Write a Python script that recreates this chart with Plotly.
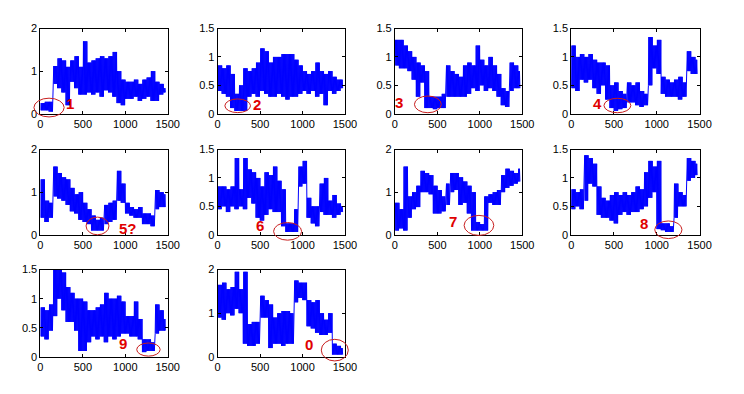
import plotly.graph_objects as go

# ---------------- data (envelopes read per 50-sample bin) ----------------
bin_width = 50
n_samples = 1475
x_ticks = [0, 500, 1000, 1500]
y_ticks_15 = [0, 0.5, 1, 1.5]
y_ticks_2 = [0, 1, 2]

p1_lo = [0.08, 0.08, 0.05, 0.70, 0.60, 0.50, 0.20, 0.75, 0.60, 0.45, 0.45, 0.50, 0.45, 0.50, 0.40,
         0.55, 0.50, 0.40, 0.25, 0.20, 0.35, 0.35, 0.40, 0.30, 0.35, 0.40, 0.30, 0.30, 0.45, 0.50]
p1_hi = [0.25, 0.28, 0.28, 1.12, 1.30, 1.25, 1.10, 1.25, 1.35, 1.10, 1.70, 1.20, 1.25, 1.30, 1.35,
         1.30, 1.35, 1.45, 1.00, 0.80, 0.75, 0.75, 0.80, 0.70, 0.80, 0.85, 1.00, 0.75, 0.70, 0.60]

p2_lo = [0.40, 0.35, 0.30, 0.10, 0.05, 0.05, 0.05, 0.30, 0.35, 0.30, 0.40, 0.35, 0.30, 0.30, 0.35,
         0.30, 0.25, 0.30, 0.30, 0.35, 0.40, 0.35, 0.40, 0.30, 0.35, 0.15, 0.40, 0.35, 0.40, 0.45]
p2_hi = [0.85, 0.80, 0.85, 0.70, 0.35, 0.50, 0.80, 0.75, 0.80, 0.90, 1.15, 1.10, 0.90, 1.00, 1.00,
         1.05, 1.05, 1.05, 0.95, 0.85, 0.75, 0.70, 0.75, 0.90, 0.75, 0.70, 0.75, 0.65, 0.60, 0.60]

p3_lo = [0.85, 0.80, 0.80, 0.75, 0.60, 0.30, 0.55, 0.10, 0.10, 0.08, 0.10, 0.10, 0.30, 0.30, 0.30,
         0.30, 0.30, 0.35, 0.45, 0.40, 0.50, 0.40, 0.45, 0.40, 0.30, 0.15, 0.12, 0.40, 0.45, 0.45]
p3_hi = [1.30, 1.30, 1.20, 1.10, 1.00, 0.90, 0.85, 0.75, 0.30, 0.30, 0.30, 0.35, 0.85, 0.75, 0.70,
         0.65, 0.85, 0.90, 0.85, 1.20, 0.95, 0.85, 1.00, 0.85, 0.70, 0.45, 0.40, 0.90, 0.85, 0.75]

p4_lo = [0.45, 0.40, 0.60, 0.55, 0.60, 0.45, 0.35, 0.50, 0.25, 0.10, 0.05, 0.08, 0.10, 0.20, 0.20,
         0.15, 0.12, 0.15, 0.50, 0.80, 0.70, 0.35, 0.30, 0.30, 0.30, 0.25, 0.30, 0.75, 0.70, 0.70]
p4_hi = [1.20, 1.00, 1.05, 1.00, 1.05, 0.95, 0.90, 0.90, 0.85, 0.50, 0.55, 0.40, 0.35, 0.55, 0.50,
         0.55, 0.40, 0.35, 1.35, 1.20, 1.30, 0.65, 0.60, 0.55, 0.60, 0.65, 0.55, 1.10, 1.00, 0.95]

p5_lo = [0.40, 0.30, 0.40, 0.90, 0.85, 0.80, 0.70, 0.55, 0.50, 0.35, 0.30, 0.25, 0.10, 0.10, 0.10,
         0.25, 0.30, 0.35, 0.80, 0.75, 0.50, 0.45, 0.40, 0.40, 0.25, 0.25, 0.20, 0.60, 0.65, 0.65]
p5_hi = [1.30, 0.80, 0.75, 1.60, 1.45, 1.35, 1.30, 1.10, 0.95, 1.00, 0.75, 0.60, 0.45, 0.35, 0.40,
         0.70, 0.75, 0.80, 1.50, 1.20, 0.75, 0.65, 0.60, 0.65, 0.50, 0.50, 0.45, 1.05, 1.00, 0.95]

p6_lo = [0.45, 0.50, 0.40, 0.50, 0.45, 0.50, 0.45, 0.65, 0.55, 0.30, 0.25, 0.35, 0.45, 0.40, 0.40,
         0.15, 0.05, 0.05, 0.05, 0.85, 0.90, 0.30, 0.20, 0.15, 0.40, 0.35, 0.35, 0.30, 0.35, 0.40]
p6_hi = [0.85, 0.85, 0.80, 0.85, 1.35, 0.80, 1.35, 1.15, 1.10, 1.00, 0.85, 1.10, 1.05, 1.20, 0.95,
         0.80, 0.20, 0.20, 0.45, 1.20, 1.30, 0.65, 0.50, 0.50, 0.90, 1.00, 0.60, 0.70, 0.55, 0.50]

p7_lo = [0.10, 0.15, 0.10, 0.40, 0.60, 0.65, 1.00, 1.00, 0.95, 0.50, 0.50, 0.55, 0.70, 1.00, 1.05,
         0.70, 0.75, 0.50, 0.10, 0.10, 0.10, 0.10, 0.75, 0.70, 0.70, 1.00, 1.10, 1.15, 1.20, 1.25]
p7_hi = [0.75, 0.60, 1.60, 0.90, 1.00, 1.15, 1.50, 1.45, 1.40, 1.15, 1.05, 0.90, 1.20, 1.45, 1.45,
         1.35, 1.25, 1.15, 1.00, 0.30, 0.25, 0.90, 0.95, 1.00, 1.05, 1.40, 1.55, 1.50, 1.45, 1.55]

p8_lo = [0.45, 0.50, 0.45, 0.60, 0.90, 0.85, 0.35, 0.30, 0.30, 0.25, 0.20, 0.35, 0.40, 0.35, 0.40,
         0.40, 0.45, 0.50, 0.65, 0.75, 0.10, 0.08, 0.05, 0.05, 0.30, 0.50, 0.50, 0.95, 1.00, 1.05]
p8_hi = [0.80, 0.75, 0.80, 1.40, 1.35, 1.25, 0.85, 0.65, 0.60, 0.70, 0.75, 0.70, 0.75, 0.70, 0.75,
         0.85, 0.80, 1.10, 1.30, 1.20, 1.30, 0.20, 0.20, 0.15, 0.90, 0.75, 0.70, 1.35, 1.30, 1.25]

p9_lo = [0.35, 0.30, 0.45, 0.70, 1.00, 0.80, 0.60, 0.60, 0.45, 0.10, 0.10, 0.25, 0.35, 0.30, 0.35,
         0.25, 0.35, 0.30, 0.35, 0.40, 0.40, 0.35, 0.35, 0.30, 0.08, 0.10, 0.10, 0.40, 0.45, 0.45]
p9_hi = [0.85, 0.80, 0.90, 1.50, 1.50, 1.45, 1.20, 1.10, 1.00, 1.00, 0.95, 0.80, 0.80, 0.85, 0.90,
         1.10, 1.00, 1.00, 1.05, 0.95, 0.70, 0.70, 0.95, 0.65, 0.30, 0.30, 0.25, 0.90, 0.80, 0.65]

p10_lo = [0.90, 0.85, 1.00, 0.95, 1.10, 1.00, 0.30, 0.25, 0.25, 0.30, 0.90, 0.90, 0.20, 0.30, 0.30,
          0.25, 0.30, 0.30, 1.25, 1.35, 1.30, 0.70, 0.65, 0.55, 0.50, 0.50, 0.55, 0.05, 0.05, 0.05]
p10_hi = [1.65, 1.70, 1.55, 1.60, 1.95, 1.55, 1.95, 0.75, 0.80, 0.80, 1.40, 1.30, 1.20, 0.90, 1.00,
          1.05, 1.05, 1.00, 1.75, 1.70, 1.70, 1.30, 1.25, 1.30, 1.00, 0.85, 1.00, 0.30, 0.25, 0.20]

panel_lo = [p1_lo, p2_lo, p3_lo, p4_lo, p5_lo, p6_lo, p7_lo, p8_lo, p9_lo, p10_lo]
panel_hi = [p1_hi, p2_hi, p3_hi, p4_hi, p5_hi, p6_hi, p7_hi, p8_hi, p9_hi, p10_hi]
panel_ymax = [2, 1.5, 1.5, 1.5, 2, 1.5, 2, 1.5, 1.5, 2]

labels = ["1", "2", "3", "4", "5?", "6", "7", "8", "9", "0"]
label_x = [346, 461, 50, 306, 1038, 500, 681, 851, 973, 1081]
label_y = [0.234, 0.158, 0.20, 0.175, 0.158, 0.158, 0.31, 0.20, 0.22, 0.29]

ell_cx = [102, 236, 388, 540, 673, 824, 990, 1136, 1273, 1380]
ell_cy = [0.145, 0.14, 0.165, 0.145, 0.207, 0.06, 0.22, 0.088, 0.124, 0.152]
ell_rx = [178, 151, 158, 157, 135, 165, 175, 159, 138, 159]
ell_ry = [0.22, 0.12, 0.147, 0.127, 0.207, 0.155, 0.235, 0.155, 0.113, 0.248]

# ---------------- layout geometry ----------------
# page body keeps its default 8px margin, so the figure is 16px smaller
PAGE_W, PAGE_H, BODY = 744, 394, 8
W, H = PAGE_W - 2 * BODY, PAGE_H - 2 * BODY
col_px = [(38, 168), (219, 349), (400, 530), (580, 711)]   # page pixels
row_px = [(23, 111), (148, 236), (272, 362)]
VERTS = 10

fig = go.Figure()
layout = dict(width=W, height=H, margin=dict(l=0, r=0, t=0, b=0), autosize=False,
              paper_bgcolor="white", plot_bgcolor="white", showlegend=False,
              font=dict(family="Liberation Sans, Arial, sans-serif", size=11, color="black"))
shapes = []
annotations = []

for i in range(10):
    r, c = divmod(i, 4)
    xd = [(col_px[c][0] - BODY) / W, (col_px[c][1] - BODY) / W]
    yd = [1 - (row_px[r][1] - BODY) / H, 1 - (row_px[r][0] - BODY) / H]
    sfx = "" if i == 0 else str(i + 1)

    xs, ys = [], []
    for b, (lo, hi) in enumerate(zip(panel_lo[i], panel_hi[i])):
        for k in range(VERTS):
            xv = b * bin_width + (k + 0.5) * bin_width / VERTS
            if xv >= n_samples:
                break
            xs.append(xv)
            ys.append(lo if k % 2 == 0 else hi)
    fig.add_trace(go.Scatter(x=xs, y=ys, mode="lines", xaxis="x" + sfx, yaxis="y" + sfx,
                             line=dict(color="#0000ff", width=1), hoverinfo="skip"))

    ymax = panel_ymax[i]
    yt = y_ticks_2 if ymax == 2 else y_ticks_15
    axcommon = dict(showline=True, linecolor="black", linewidth=1, mirror="allticks",
                    ticks="inside", ticklen=3, tickcolor="black", showgrid=False,
                    zeroline=False, tickfont=dict(size=11, color="black"))
    layout["xaxis" + sfx] = dict(domain=xd, range=[0, 1500], tickvals=x_ticks,
                                 ticktext=[str(t) for t in x_ticks],
                                 anchor="y" + sfx, **axcommon)
    layout["yaxis" + sfx] = dict(domain=yd, range=[0, ymax], tickvals=yt,
                                 ticktext=[("%g" % t) for t in yt],
                                 anchor="x" + sfx, **axcommon)

    def px(xv):
        return xd[0] + xv / 1500 * (xd[1] - xd[0])

    def py(yv):
        return yd[0] + yv / ymax * (yd[1] - yd[0])

    shapes.append(dict(type="circle", xref="paper", yref="paper",
                       x0=px(ell_cx[i] - ell_rx[i]), x1=px(ell_cx[i] + ell_rx[i]),
                       y0=py(ell_cy[i] - ell_ry[i]), y1=py(ell_cy[i] + ell_ry[i]),
                       line=dict(color="#c81e1e", width=1)))
    annotations.append(dict(x=label_x[i], y=label_y[i], xref="x" + sfx, yref="y" + sfx,
                            text="<b>%s</b>" % labels[i], showarrow=False,
                            font=dict(size=15, color="#e00000",
                                      family="Liberation Sans, Arial, sans-serif")))

layout["shapes"] = shapes
layout["annotations"] = annotations
fig.update_layout(**layout)
fig.write_html("out.html", config={"displayModeBar": False, "responsive": False})
